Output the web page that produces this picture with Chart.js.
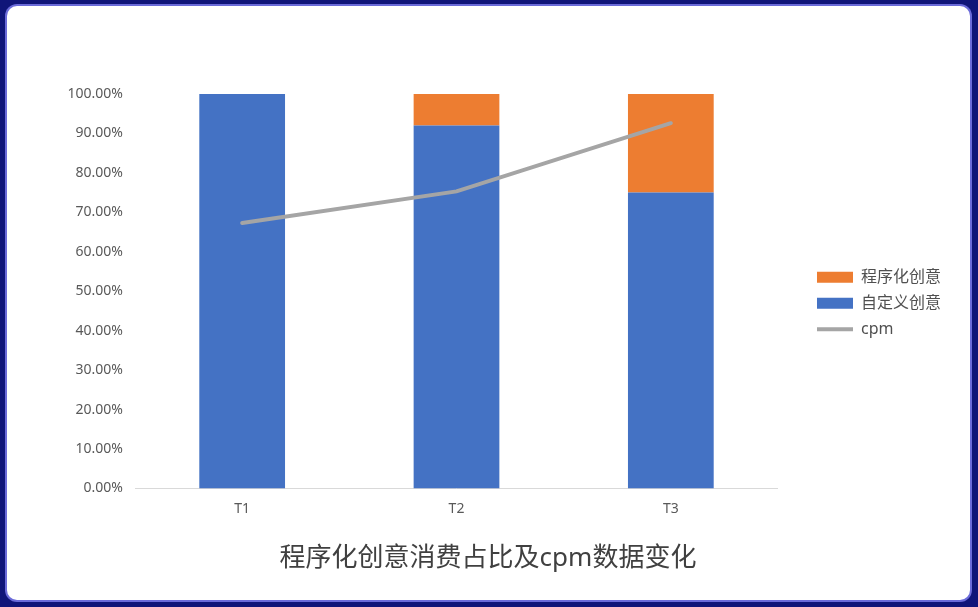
<!DOCTYPE html>
<html>
<head>
<meta charset="utf-8">
<script src="https://cdn.jsdelivr.net/npm/chart.js@4"></script>
<style>
  html, body { margin: 0; padding: 0; width: 978px; height: 607px; background: #101579; overflow: hidden; }
  #frame { position: absolute; left: 7px; top: 6px; width: 963px; height: 594px; background: #ffffff; border-radius: 10px; box-shadow: 0 0 0 2px #6b6bd9; overflow: hidden; }
  #frame canvas { display: block; }
</style>
</head>
<body>
<div id="frame"><canvas id="c"></canvas></div>
<script>
const categories = ['T1', 'T2', 'T3'];
const customShare = [100, 92, 75];      // 自定义创意
const programmaticShare = [0, 8, 25];   // 程序化创意
const cpmValues = [67.3, 75.3, 92.6];   // cpm
const yTicks = [0, 10, 20, 30, 40, 50, 60, 70, 80, 90, 100];
const titleText = '程序化创意消费占比及cpm数据变化';
const seriesNames = { custom: '自定义创意', programmatic: '程序化创意', cpm: 'cpm' };

Chart.defaults.font.family = '"Noto Sans", "Noto Sans CJK SC", sans-serif';
Chart.defaults.color = '#595959';

const EXTRA = 29, SHIFT = 12;
const legendShift = {
  id: 'legendShift',
  beforeLayout(chart) {
    const l = chart.legend;
    if (l && !l._patched) {
      const f = l.fit;
      l.fit = function () { f.call(this); this.width += EXTRA; };
      l._patched = true;
    }
  },
  afterLayout(chart) {
    const l = chart.legend;
    if (l) { l.left += EXTRA; l.top += SHIFT; l.bottom += SHIFT; }
  }
};

const legendRank = [1, 0, 2];

new Chart(document.getElementById('c'), {
  data: {
    labels: categories,
    datasets: [
      { type: 'bar', label: seriesNames.custom, data: customShare, backgroundColor: '#4472C4', stack: 'share', order: 1, barPercentage: 0.4, categoryPercentage: 1 },
      { type: 'bar', label: seriesNames.programmatic, data: programmaticShare, backgroundColor: '#ED7D31', stack: 'share', order: 1, barPercentage: 0.4, categoryPercentage: 1 },
      { type: 'line', label: seriesNames.cpm, data: cpmValues, borderColor: '#A5A5A5', backgroundColor: '#A5A5A5', borderWidth: 4, pointRadius: 0, tension: 0, stack: 'cpm', order: 0, borderCapStyle: 'round' }
    ]
  },
  options: {
    responsive: true,
    maintainAspectRatio: false,
    animation: false,
    layout: { padding: { top: 88, left: 18, right: 19, bottom: 0 } },
    scales: {
      x: {
        stacked: true,
        grid: { display: false, drawTicks: false },
        border: { display: true, color: '#d9d9d9', width: 1 },
        ticks: { padding: 12.6, font: { size: 14 }, color: '#595959' }
      },
      y: {
        stacked: true,
        min: 0, max: 100,
        afterFit(scale) { scale.width = 110; },
        afterBuildTicks(scale) { scale.ticks = yTicks.map(v => ({ value: v })); },
        grid: { display: false, drawTicks: false },
        border: { display: false },
        ticks: { padding: 12, font: { size: 14 }, color: '#595959', callback: v => Number(v).toFixed(2) + '%' }
      }
    },
    plugins: {
      tooltip: { enabled: false },
      legend: {
        position: 'right',
        fullSize: false,
        labels: {
          usePointStyle: true,
          pointStyleWidth: 36,
          boxWidth: 36,
          boxHeight: 11,
          padding: 10,
          font: { size: 16 },
          color: '#505050',
          sort: (a, b) => legendRank[a.datasetIndex] - legendRank[b.datasetIndex],
          generateLabels(chart) {
            const items = Chart.defaults.plugins.legend.labels.generateLabels(chart);
            items.forEach(it => {
              const ds = chart.data.datasets[it.datasetIndex];
              if (ds.type === 'line') { it.pointStyle = 'line'; it.lineWidth = 4; it.strokeStyle = '#A5A5A5'; }
              else { it.pointStyle = 'rect'; it.lineWidth = 0; }
            });
            return items;
          }
        }
      },
      title: {
        display: true,
        text: titleText,
        position: 'bottom',
        color: '#404040',
        font: { size: 26, weight: 'normal' },
        padding: { top: 13, bottom: 25.4 }
      }
    }
  },
  plugins: [legendShift]
});
</script>
</body>
</html>
